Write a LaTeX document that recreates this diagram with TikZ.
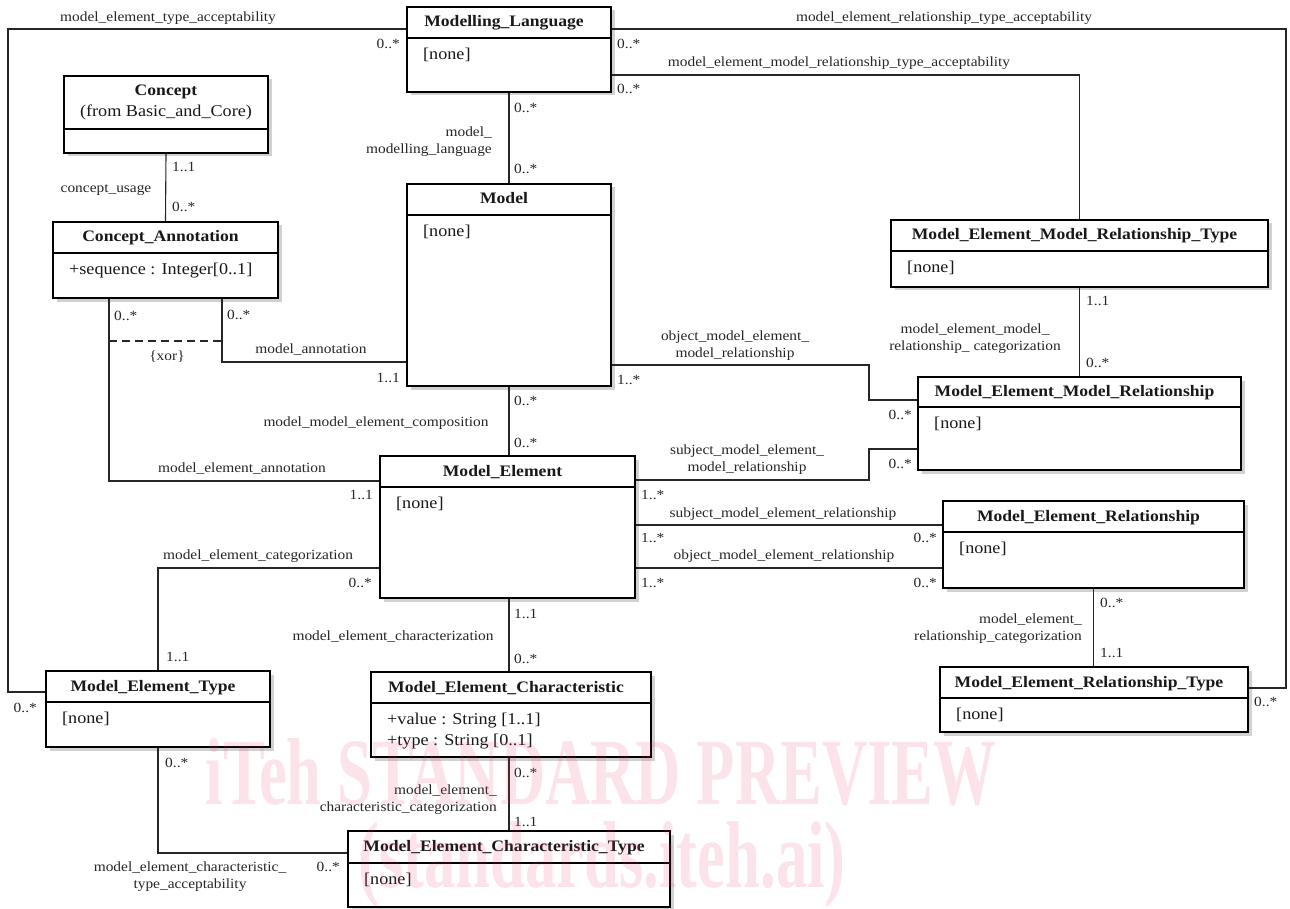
\documentclass[tikz,border=0pt]{standalone}
\usepackage{fontspec}
\setmainfont{Liberation Serif}[FakeStretch=1.1]
\usetikzlibrary{fit,shadows}
\definecolor{wmcol}{RGB}{230,60,100}
\newcommand\umlclass[8]{%
  \node[classbox, fit={(#2,#3) (#4,#5)}] (#1) {};
  \draw[boxline] (#2,#6) -- (#4,#6);
  \node[titletext] (#1-title) at ({(#2+#4)/2-5},{(#3+#6)/2+2}) {#7};
  \node[attrtext] (#1-attr) at ({#2+16},{#6+9.5}) {#8};
}
\begin{document}
\begin{tikzpicture}[x=1pt,y=-1pt,
  classbox/.style={draw=black, line width=2.4pt, fill=white, inner sep=0pt,
    drop shadow={shadow xshift=3.5pt, shadow yshift=-3.5pt, fill=black!18, opacity=1}},
  boxline/.style={line width=2.4pt, black},
  conn/.style={line width=1.1pt, black!85},
  titletext/.style={font=\fontsize{16}{19}\selectfont\bfseries, inner sep=0pt, text height=.7em, text depth=.2em, text=black!90},
  attrtext/.style={font=\fontsize{16.5}{21}\selectfont, inner sep=0pt, align=left, anchor=north west, text=black!90},
  lbl/.style={font=\fontsize{14}{17}\selectfont, inner sep=0pt, text=black!85, yshift=-2pt},
  sl/.style={font=\fontsize{14}{17}\selectfont, inner sep=0pt, text=black!85, text height=.7em, text depth=.2em, yshift=-3pt}]
\useasboundingbox (0,0) rectangle (1290,909);

% ---------- classes ----------
\umlclass{ml}{407}{7}{611}{92}{38}{Modelling\_Language}{[none]}
\node[classbox, fit={(64,76) (268,153)}] (concept) {};
\draw[boxline] (64,129) -- (268,129);
\node[titletext] (concept-title) at (166,93) {Concept};
\node[font=\fontsize{16.5}{21}\selectfont, inner sep=0pt, text height=.7em, text depth=.2em, text=black!90] (concept-from) at (166,114) {(from Basic\_and\_Core)};
\umlclass{ca}{53}{222}{278}{298}{253}{Concept\_Annotation}{+sequence : Integer[0..1]}
\umlclass{model}{407}{184}{611}{386}{215}{Model}{[none]}
\umlclass{memrt}{891}{220}{1268}{287}{251}{Model\_Element\_Model\_Relationship\_Type}{[none]}
\umlclass{memr}{918}{377}{1241}{470}{407}{Model\_Element\_Model\_Relationship}{[none]}
\umlclass{me}{380}{456}{635}{598}{487}{Model\_Element}{[none]}
\umlclass{mer}{943}{501}{1244}{588}{532}{Model\_Element\_Relationship}{[none]}
\umlclass{met}{46}{671}{270}{747}{702}{Model\_Element\_Type}{[none]}
\umlclass{mec}{371}{672}{651}{757}{703}{Model\_Element\_Characteristic}{+value : String [1..1]\\+type : String [0..1]}
\umlclass{mert}{940}{667}{1248}{732}{698}{Model\_Element\_Relationship\_Type}{[none]}
\umlclass{mect}{348}{831}{670}{907}{863}{Model\_Element\_Characteristic\_Type}{[none]}

% ---------- connectors ----------
\draw[conn] (ml.west |- 0,29) -- (8,29) -- (8,692) -- (met.west |- 0,692);
\draw[conn] (ml.east |- 0,29) -- (1286,29) -- (1286,688) -- (mert.east |- 0,688);
\draw[conn] (ml.east |- 0,75) -| (memrt.north);
\draw[conn] (ml.south) -- (model.north);
\draw[conn] (concept.south) -- (ca.north);
\draw[conn] (ca.south -| 222,0) -- (222,362) -- (model.west |- 0,362);
\draw[conn] (ca.south -| 109,0) -- (109,481) -- (me.west |- 0,481);
\coordinate (xorA) at (109,341);
\coordinate (xorB) at (222,341);
\draw[conn, dash pattern=on 8pt off 5pt] (xorA) -- (xorB);
\draw[conn] (model.south) -- (model.south |- me.north);
\draw[conn] (model.east |- 0,365) -- (869,365) -- (869,400) -- (memr.west |- 0,400);
\draw[conn] (me.east |- 0,480) -- (869,480) -- (869,449) -- (memr.west |- 0,449);
\draw[conn] (memrt.south) -- (memr.north);
\draw[conn] (me.east |- 0,525) -- (mer.west |- 0,525);
\draw[conn] (me.east |- 0,568) -- (mer.west |- 0,568);
\draw[conn] (mer.south) -- (mer.south |- mert.north);
\draw[conn] (me.west |- 0,568) -| (met.north);
\draw[conn] (me.south -| 509,0) -- (mec.north -| 509,0);
\draw[conn] (mec.south -| 509,0) -- (mect.north -| 509,0);
\draw[conn] (met.south) |- (mect.west |- 0,853);

% ---------- labels ----------
\node[sl] (t1) at (168,16) {model\_element\_type\_acceptability};
\node[sl] (t2) at (944,16) {model\_element\_relationship\_type\_acceptability};
\node[sl] (t3) at (839,61) {model\_element\_model\_relationship\_type\_acceptability};
\node[sl, anchor=east] (m1) at (400,43) {0..*};
\node[sl, anchor=west] (m2) at (617,43) {0..*};
\node[sl, anchor=west] (m3) at (617,88) {0..*};
\node[sl, anchor=west] (m4) at (514,107) {0..*};
\node[sl, anchor=west] (m5) at (514,168) {0..*};
\node[lbl, align=right, anchor=east] (t4) at (492,140) {model\_\\modelling\_language};
\node[sl, anchor=west] (m6) at (172,166) {1..1};
\node[sl, anchor=west] (m7) at (172,206) {0..*};
\node[sl] (t5) at (106,187) {concept\_usage};
\node[sl, anchor=west] (m8) at (114,315) {0..*};
\node[sl, anchor=west] (m9) at (227,314) {0..*};
\node[sl] (xor) at (167,355) {\{xor\}};
\node[sl] (t6) at (311,348) {model\_annotation};
\node[sl, anchor=east] (m10) at (400,377) {1..1};
\node[sl] (t7) at (242,467) {model\_element\_annotation};
\node[sl, anchor=east] (m11) at (373,494) {1..1};
\node[sl] (t8) at (376,421) {model\_model\_element\_composition};
\node[sl, anchor=west] (m12) at (514,400) {0..*};
\node[sl, anchor=west] (m13) at (514,442) {0..*};
\node[sl, anchor=west] (m14) at (617,379) {1..*};
\node[lbl, align=center] (t9) at (735,344) {object\_model\_element\_\\model\_relationship};
\node[sl, anchor=east] (m15) at (912,414) {0..*};
\node[lbl, align=center] (t10) at (747,458) {subject\_model\_element\_\\model\_relationship};
\node[sl, anchor=east] (m16) at (912,463) {0..*};
\node[sl, anchor=west] (m17) at (641,494) {1..*};
\node[lbl, align=center] (t11) at (975,337) {model\_element\_model\_\\relationship\_ categorization};
\node[sl, anchor=west] (m18) at (1086,300) {1..1};
\node[sl, anchor=west] (m19) at (1086,362) {0..*};
\node[sl] (t12) at (783,512) {subject\_model\_element\_relationship};
\node[sl] (t13) at (784,554) {object\_model\_element\_relationship};
\node[sl, anchor=west] (m20) at (641,537) {1..*};
\node[sl, anchor=west] (m21) at (641,582) {1..*};
\node[sl, anchor=east] (m22) at (937,537) {0..*};
\node[sl, anchor=east] (m23) at (937,582) {0..*};
\node[sl, anchor=west] (m24) at (1100,602) {0..*};
\node[lbl, align=right, anchor=east] (t14) at (1082,627) {model\_element\_\\relationship\_categorization};
\node[sl, anchor=west] (m25) at (1100,652) {1..1};
\node[sl, anchor=west] (m26) at (1254,701) {0..*};
\node[sl] (t15) at (258,554) {model\_element\_categorization};
\node[sl, anchor=east] (m27) at (372,582) {0..*};
\node[sl, anchor=west] (m28) at (166,656) {1..1};
\node[sl, anchor=east] (m29) at (37,707) {0..*};
\node[sl, anchor=west] (m30) at (514,613) {1..1};
\node[sl] (t16) at (393,635) {model\_element\_characterization};
\node[sl, anchor=west] (m31) at (514,658) {0..*};
\node[sl, anchor=west] (m32) at (514,772) {0..*};
\node[lbl, align=right, anchor=east] (t17) at (497,798) {model\_element\_\\characteristic\_categorization};
\node[sl, anchor=west] (m33) at (514,821) {1..1};
\node[sl, anchor=west] (m34) at (165,762) {0..*};
\node[lbl, align=center] (t18) at (190,875) {model\_element\_characteristic\_\\type\_acceptability};
\node[sl, anchor=east] (m35) at (340,866) {0..*};

% ---------- watermark ----------
\node[font=\fontsize{95}{100}\selectfont\bfseries, text=wmcol, opacity=0.14, xscale=0.6, inner sep=0pt] (wm1) at (601,772) {iTeh STANDARD PREVIEW};
\node[font=\fontsize{95}{100}\selectfont\bfseries, text=wmcol, opacity=0.14, xscale=0.6, inner sep=0pt] (wm2) at (602,865) {(standards.iteh.ai)};
\end{tikzpicture}
\end{document}
